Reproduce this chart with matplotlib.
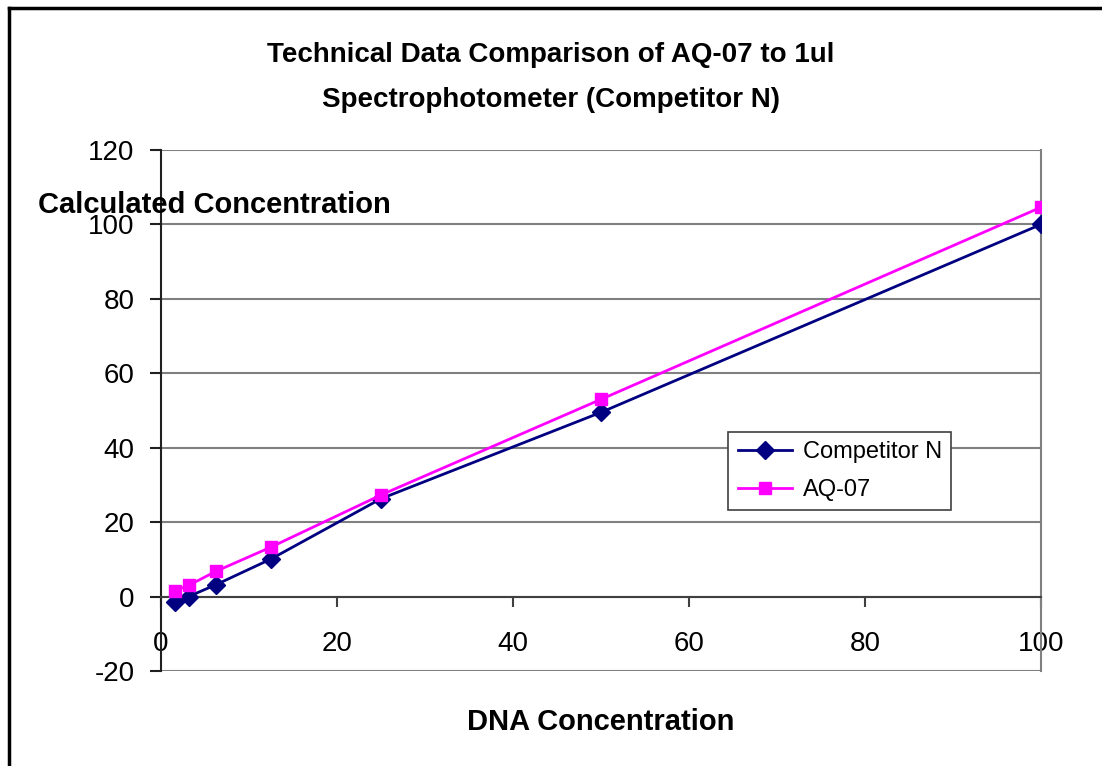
import matplotlib.pyplot as plt
from matplotlib.lines import Line2D

plt.rcParams['font.family'] = ['Liberation Sans', 'DejaVu Sans']
plt.rcParams['axes.unicode_minus'] = False

# DNA dilution series
dna_conc = [1.5625, 3.125, 6.25, 12.5, 25, 50, 100]
competitor_n = [-1.5, 0.0, 3.2, 10.1, 26.3, 49.5, 100.0]
aq07 = [1.6, 3.0, 6.8, 13.3, 27.3, 53.0, 104.6]

y_ticks = [-20, 0, 20, 40, 60, 80, 100, 120]
x_ticks = [0, 20, 40, 60, 80, 100]

fig = plt.figure(figsize=(11.02, 7.66), dpi=100)
ax = fig.add_axes([0.1461, 0.124, 0.7985, 0.6802])

ax.plot(dna_conc, competitor_n, color='#000080', lw=2, marker='D', ms=9,
        label='Competitor N', zorder=3)
ax.plot(dna_conc, aq07, color='#FF00FF', lw=2, marker='s', ms=9,
        label='AQ-07', zorder=4)

ax.set_xlim(0, 100)
ax.set_ylim(-20, 120)
ax.set_xticks(x_ticks)
ax.set_yticks(y_ticks)
ax.yaxis.grid(True, color='#808080', lw=1.5)
ax.set_axisbelow(True)

# x axis crosses at y = 0
ax.spines['bottom'].set_position(('data', 0))
ax.spines['bottom'].set_color('#404040')
ax.spines['bottom'].set_linewidth(1.5)
ax.spines['left'].set_color('#202020')
ax.spines['left'].set_linewidth(1.5)
for s in ['top', 'right']:
    ax.spines[s].set_color('#808080')
    ax.spines[s].set_linewidth(1.5)
ax.spines['top'].set_visible(False)

ax.tick_params(axis='x', direction='out', length=7, width=1.5, color='#404040',
               labelsize=20, pad=18)
ax.tick_params(axis='y', direction='out', length=8, width=1.5, color='#202020',
               labelsize=20, pad=11)

fig.text(0.5, 0.928, 'Technical Data Comparison of AQ-07 to 1ul',
         ha='center', va='center', fontsize=20, fontweight='bold')
fig.text(0.5, 0.869, 'Spectrophotometer (Competitor N)',
         ha='center', va='center', fontsize=20, fontweight='bold')
fig.text(0.0345, 0.732, 'Calculated Concentration', ha='left', va='center',
         fontsize=21, fontweight='bold')
fig.text(0.545, 0.057, 'DNA Concentration', ha='center', va='center',
         fontsize=21, fontweight='bold')

leg = ax.legend(loc='upper left', bbox_to_anchor=(0.6446, 0.4587),
                fontsize=17, frameon=True, fancybox=False, borderpad=0.4,
                handlelength=2.3, handletextpad=0.45, labelspacing=0.66,
                borderaxespad=0)
leg.get_frame().set_edgecolor('#404040')
leg.get_frame().set_linewidth(1.2)
leg.get_frame().set_alpha(1)

# outer chart border (only left and top visible in the crop)
fig.add_artist(Line2D([9 / 1102, 9 / 1102], [0, 1 - 8 / 766], color='black', lw=2.5,
                      transform=fig.transFigure))
fig.add_artist(Line2D([9 / 1102, 1], [1 - 8 / 766, 1 - 8 / 766], color='black', lw=2.5,
                      transform=fig.transFigure))

fig.savefig('out.png', dpi=100)
